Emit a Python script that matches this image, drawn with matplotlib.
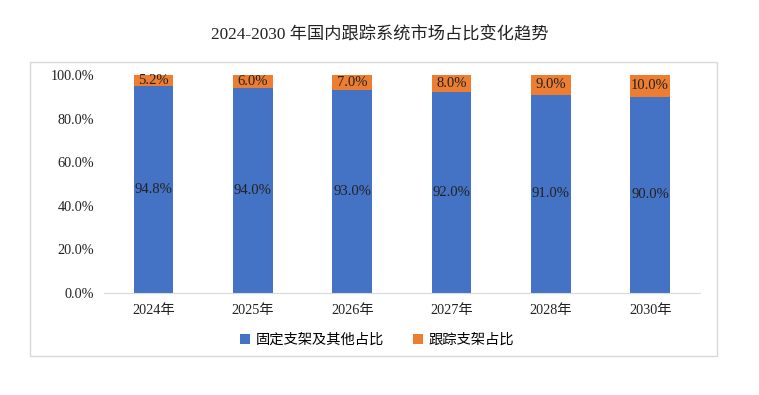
import matplotlib
matplotlib.use("Agg")
import matplotlib.pyplot as plt
from matplotlib.patches import Rectangle
import numpy as np

plt.rcParams['font.family'] = ['Liberation Serif', 'Noto Sans CJK SC', 'DejaVu Sans']

years = ["2024年", "2025年", "2026年", "2027年", "2028年", "2030年"]
fixed_share = [94.8, 94.0, 93.0, 92.0, 91.0, 90.0]
tracking_share = [5.2, 6.0, 7.0, 8.0, 9.0, 10.0]

blue = "#4472C4"
orange = "#ED7D31"

fig = plt.figure(figsize=(7.59, 3.95), dpi=100)

# outer frame around the chart
fig.patches.append(Rectangle((0.0395, 0.0987), 0.905, 0.744, transform=fig.transFigure,
                             fill=False, edgecolor="#D9D9D9", linewidth=1.0))

ax = fig.add_axes([0.137, 0.258, 0.785, 0.552])
x = np.arange(len(years))
fixed = np.array(fixed_share) / 100
track = np.array(tracking_share) / 100

b1 = ax.bar(x, fixed, width=0.4, color=blue, label="固定支架及其他占比")
b2 = ax.bar(x, track, width=0.4, bottom=fixed, color=orange, label="跟踪支架占比")

for i in range(len(years)):
    ax.text(x[i], fixed[i] / 2, f"{fixed_share[i]:.1f}%", ha="center", va="center",
            fontsize=10.5, color="#222222")
    ax.text(x[i], fixed[i] + track[i] / 2, f"{tracking_share[i]:.1f}%", ha="center", va="center",
            fontsize=10.5, color="#222222")

ax.set_xlim(-0.5, len(years) - 0.5)
ax.set_ylim(0, 1)
ax.set_yticks(np.arange(0, 1.01, 0.2))
ax.set_yticklabels([f"{v * 100:.1f}%" for v in np.arange(0, 1.01, 0.2)])
ax.set_xticks(x)
ax.set_xticklabels(years)
ax.tick_params(axis="both", length=0, labelsize=10.3, colors="#222222")
ax.tick_params(axis="y", pad=7)
ax.tick_params(axis="x", pad=8)
for s in ["top", "right", "left"]:
    ax.spines[s].set_visible(False)
ax.spines["bottom"].set_color("#D9D9D9")

fig.text(0.5, 0.91, "2024-2030 年国内跟踪系统市场占比变化趋势", ha="center", va="center",
         fontsize=12.4, color="#222222")

fig.legend(handles=[b1, b2], loc="center", bbox_to_anchor=(0.497, 0.139), ncol=2, frameon=False,
           prop={"family": ["Noto Sans CJK SC"], "size": 10.3}, handlelength=0.7, handleheight=0.7,
           columnspacing=2.0, handletextpad=0.4)

fig.savefig("out.png", dpi=100)
